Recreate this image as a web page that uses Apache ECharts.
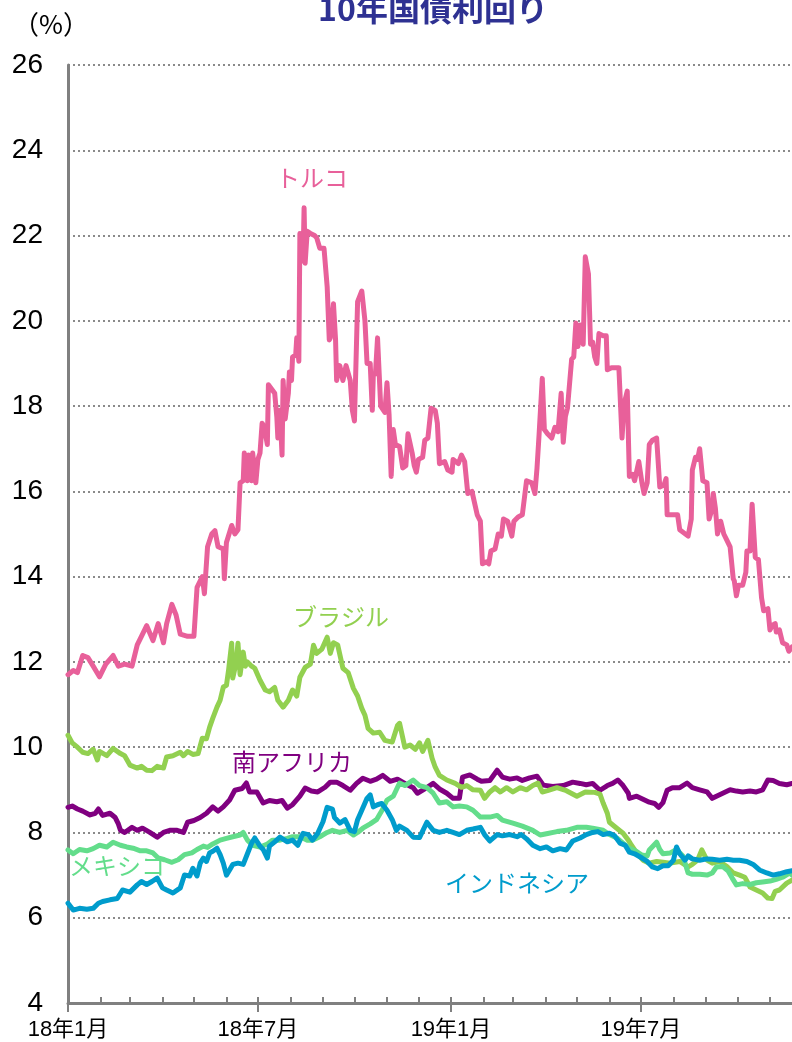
<!DOCTYPE html>
<html>
<head>
<meta charset="utf-8">
<title>10年国債利回り</title>
<script src="https://cdn.jsdelivr.net/npm/echarts@6/dist/echarts.min.js"></script>
<style>
  html, body { margin: 0; padding: 0; background: #ffffff; }
  #chart { width: 792px; height: 1042px; }
</style>
</head>
<body>
<div id="chart"></div>
<script>
// 10-year government bond yields (%), Jan 2018 - Nov 2019.
// Each series: days elapsed since 2018-01-01 and the yield on that day.

const turkeyDay = [0,5,9,14,19,24,30,36,43,48,54,61,66,70,75,81,86,91,94,99,103,107,114,120,123,128,130,133,137,140,143,148,149,151,156,159,162,164,167,168,171,172,175,176,179,181,183,185,187,190,191,194,197,199,200,202,204,205,207,210,211,213,214,217,218,220,221,222,224,225,226,228,231,235,237,240,244,247,249,250,253,255,256,259,262,265,269,271,273,276,280,283,285,288,290,291,293,295,298,302,304,306,308,310,312,316,319,322,324,328,330,332,334,338,340,343,346,350,352,354,359,362,366,367,372,375,378,381,385,390,393,395,399,401,403,407,410,413,415,419,423,425,429,433,437,442,445,447,449,452,454,457,461,464,467,470,472,474,476,480,482,484,486,488,491,493,496,498,500,502,504,506,510,513,514,518,525,528,530,533,535,538,540,544,547,549,552,554,557,561,564,568,570,571,576,581,583,591,594,595,598,600,602,605,609,611,614,615,617,619,622,625,628,631,634,635,637,639,643,646,647,650,652,653,655,658,661,663,667,669,671,674,675,678,681,685,687,690];
const turkeyYield = [11.7,11.8,11.75,12.15,12.1,11.9,11.65,11.95,12.15,11.9,11.95,11.9,12.4,12.6,12.85,12.5,12.9,12.45,12.9,13.35,13.1,12.65,12.6,12.6,13.75,14.0,13.6,14.7,15.0,15.08,14.7,14.65,13.95,14.8,15.2,15.0,15.1,16.2,16.25,16.9,16.25,16.85,16.25,16.9,16.2,16.75,16.9,17.6,17.5,17.1,18.5,18.4,18.3,17.75,17.25,17.9,16.85,18.6,17.7,18.3,18.8,18.6,19.15,19.2,19.6,19.05,22.05,22.0,21.4,22.65,21.35,22.1,22.05,22.0,21.95,21.7,21.7,20.8,19.55,19.6,20.4,19.55,18.6,18.95,18.6,18.95,18.6,17.9,17.65,20.45,20.7,20.0,19.0,19.0,17.9,18.75,18.75,19.6,18.0,17.85,18.55,17.8,16.35,17.45,17.1,17.05,16.55,16.6,17.35,16.9,16.6,16.45,16.75,16.8,17.2,17.25,17.95,17.9,17.6,16.65,16.7,16.5,16.45,16.75,16.65,16.85,16.7,15.95,16.0,15.45,15.3,14.3,14.35,14.3,14.6,14.65,15.0,14.95,15.35,15.3,14.95,15.3,15.4,15.45,16.25,16.2,15.95,16.55,17.35,18.65,17.45,17.35,17.25,17.5,17.4,18.3,17.15,17.75,17.95,19.1,19.15,19.95,19.4,19.9,19.45,21.5,21.1,19.45,19.5,19.15,19.0,19.7,19.65,19.65,18.85,18.9,18.9,17.25,18.05,18.35,16.35,16.4,16.25,16.7,16.2,15.95,16.2,17.1,17.2,17.25,16.1,16.15,16.3,15.45,15.45,15.45,15.1,14.95,15.35,16.5,16.8,16.75,17.0,16.25,16.2,15.35,15.6,15.95,15.6,15.0,15.3,15.0,14.85,14.7,13.95,13.9,13.55,13.8,13.8,14.1,14.6,14.6,15.7,15.7,14.45,14.4,13.5,13.2,13.25,12.75,12.85,12.9,12.7,12.75,12.45,12.4,12.25,12.35];

const brazilDay = [0,4,9,14,19,24,28,30,37,43,50,54,59,66,70,75,80,85,91,94,100,107,110,114,119,124,128,132,135,138,142,145,148,151,153,156,157,160,162,164,167,169,171,175,178,183,188,192,197,200,205,210,214,218,221,226,231,234,237,242,247,250,253,257,262,267,272,276,280,283,286,291,297,302,309,314,316,321,326,331,335,338,343,347,350,354,361,369,375,380,386,393,397,402,407,412,418,424,431,437,443,448,452,457,466,475,485,493,502,507,510,514,516,523,529,534,537,542,548,554,561,567,574,583,591,595,600,604,609,614,621,628,634,640,645,650,656,662,667,671,674,678,685,690];
const brazilYield = [10.28,10.1,10.0,9.88,9.85,9.95,9.7,9.9,9.8,9.97,9.85,9.8,9.58,9.51,9.55,9.46,9.45,9.55,9.51,9.77,9.8,9.88,9.8,9.9,9.83,9.85,10.21,10.2,10.47,10.68,10.94,11.1,11.41,11.45,11.8,12.44,11.62,11.95,12.44,11.7,12.23,11.9,12.0,11.9,11.85,11.57,11.34,11.3,11.4,11.1,10.94,11.1,11.34,11.2,11.64,11.87,11.95,12.39,12.2,12.3,12.58,12.2,12.45,12.4,11.85,11.75,11.38,11.2,10.91,10.75,10.44,10.33,10.35,10.16,10.12,10.51,10.56,10.0,10.05,9.95,10.1,9.9,10.16,9.74,9.53,9.34,9.23,9.15,9.06,9.1,9.0,8.99,8.8,8.95,9.05,8.95,9.05,8.95,9.05,9.0,9.1,9.16,8.95,8.98,9.05,8.98,8.85,8.95,8.94,8.9,8.69,8.45,8.24,8.1,7.98,7.82,7.7,7.52,7.35,7.28,7.32,7.3,7.28,7.32,7.19,7.25,7.35,7.59,7.35,7.28,7.32,7.2,7.05,7.0,6.95,6.72,6.65,6.58,6.46,6.45,6.62,6.65,6.81,6.88];

const safricaDay = [0,4,9,14,21,26,29,33,40,45,48,50,54,61,66,71,78,85,91,97,104,110,114,120,126,132,138,143,148,154,159,166,170,173,180,186,192,199,204,209,214,221,226,232,238,245,250,256,262,269,275,281,288,294,300,307,314,321,329,333,342,348,354,361,367,373,376,383,390,394,402,409,414,421,428,433,440,447,453,462,472,481,488,494,500,507,514,519,524,529,534,535,542,548,554,559,563,567,571,576,583,590,595,602,609,614,618,624,631,637,643,650,656,662,667,672,678,685,690];
const safricaYield = [8.59,8.62,8.55,8.5,8.41,8.45,8.55,8.4,8.45,8.35,8.2,8.05,8.0,8.12,8.05,8.1,8.0,7.89,8.0,8.05,8.05,8.0,8.24,8.28,8.35,8.45,8.6,8.5,8.6,8.76,8.99,9.03,9.16,8.95,8.95,8.69,8.75,8.72,8.75,8.57,8.65,8.85,9.04,8.97,8.95,9.06,9.18,9.18,9.1,8.99,9.15,9.27,9.2,9.25,9.34,9.2,9.25,9.15,9.05,8.92,9.05,9.15,9.02,8.92,8.8,8.8,9.3,9.35,9.25,9.2,9.22,9.46,9.3,9.25,9.28,9.22,9.28,9.32,9.11,9.08,9.1,9.18,9.15,9.12,9.15,8.99,9.1,9.15,9.23,9.1,8.92,8.8,8.85,8.78,8.71,8.68,8.59,8.7,8.99,9.05,9.05,9.16,9.05,9.0,8.95,8.8,8.85,8.92,9.0,8.97,8.95,8.97,8.95,9.0,9.23,9.22,9.15,9.12,9.15];

const mexicoDay = [0,5,11,18,24,30,37,43,50,56,62,69,75,81,86,92,99,105,111,118,123,129,133,138,145,151,157,164,167,171,176,183,190,195,202,209,214,221,228,233,240,247,252,259,266,272,276,281,288,294,300,304,310,316,321,329,335,342,348,354,361,367,373,380,386,393,402,409,414,424,433,443,450,456,466,475,485,494,500,510,516,523,529,535,542,547,552,554,561,564,567,574,580,586,591,595,602,609,614,618,624,629,633,637,643,650,656,662,669,675,681,688,690];
const mexicoYield = [7.59,7.5,7.6,7.57,7.62,7.7,7.66,7.77,7.7,7.66,7.63,7.57,7.57,7.52,7.4,7.36,7.3,7.36,7.48,7.52,7.6,7.68,7.65,7.73,7.82,7.86,7.9,7.94,8.0,7.82,7.7,7.66,7.73,7.82,7.82,7.86,7.9,7.9,7.82,7.82,7.9,8.0,8.05,8.0,8.05,7.94,8.0,8.1,8.2,8.3,8.55,8.76,8.85,9.16,9.1,9.23,9.1,9.05,8.92,8.69,8.72,8.6,8.62,8.6,8.52,8.36,8.36,8.4,8.29,8.22,8.15,8.05,7.94,7.97,8.02,8.05,8.12,8.12,8.1,8.05,7.95,7.87,7.75,7.63,7.55,7.47,7.45,7.59,7.77,7.6,7.5,7.52,7.6,7.45,7.05,7.02,7.02,7.0,7.05,7.19,7.2,7.1,6.93,6.77,6.8,6.78,6.82,6.84,6.86,6.9,6.95,7.05,7.0];

const indonesiaDay = [0,5,11,18,24,29,33,40,47,52,59,66,70,75,80,85,90,94,100,107,111,116,119,123,126,129,132,135,138,142,145,148,151,154,157,162,167,171,175,178,183,186,190,192,197,202,209,214,219,224,229,233,238,243,247,252,254,259,264,269,273,276,280,285,288,291,295,299,304,309,313,316,323,329,335,342,348,354,361,367,373,380,386,393,397,402,409,414,421,428,432,437,443,450,456,462,469,475,481,488,494,500,505,510,516,521,526,531,535,540,547,552,557,562,567,572,577,580,583,588,591,595,602,609,614,621,628,634,640,647,653,659,666,672,678,685,690];
const indonesiaYield = [6.34,6.18,6.22,6.2,6.22,6.34,6.38,6.42,6.45,6.65,6.6,6.77,6.85,6.78,6.85,6.93,6.7,6.65,6.58,6.7,7.0,6.98,7.16,6.98,7.28,7.4,7.32,7.52,7.56,7.63,7.48,7.28,7.0,7.12,7.25,7.28,7.25,7.5,7.75,7.87,7.68,7.6,7.4,7.68,7.78,7.89,7.78,7.82,7.7,7.98,7.95,7.82,7.98,8.25,8.59,8.55,8.35,8.22,8.3,8.05,8.02,8.3,8.52,8.8,8.88,8.6,8.65,8.68,8.52,8.3,8.05,8.15,8.05,7.89,7.88,8.24,8.05,8.0,8.05,8.0,7.95,8.05,8.08,8.12,7.95,7.8,7.95,7.92,7.95,7.9,7.95,7.85,7.7,7.62,7.66,7.57,7.62,7.59,7.8,7.87,7.95,8.0,8.02,7.95,7.98,7.92,7.75,7.7,7.54,7.5,7.4,7.32,7.19,7.15,7.22,7.22,7.35,7.66,7.5,7.35,7.45,7.38,7.35,7.38,7.37,7.35,7.37,7.35,7.35,7.32,7.25,7.12,7.05,7.0,7.03,7.08,7.1];

// Month starts along the date axis: every month gets a small tick, Jan/Jul get labels
const monthStarts = [];
for (let m = 0; m <= 22; m++) monthStarts.push(Date.UTC(2018, m, 1));
const halfYearStarts = monthStarts.filter((t, i) => i % 6 === 0);

const yTicks = { min: 4, max: 26, step: 2 };

const DAY_MS = 86400000;
const START = Date.UTC(2018, 0, 1);
const END = START + 690 * DAY_MS;

function pairs(days, values) {
  return days.map((d, i) => [START + d * DAY_MS, values[i]]);
}

const seriesDefs = [
  { name: 'トルコ', day: turkeyDay, val: turkeyYield, color: '#e8609a', label: [312, 178] },
  { name: '南アフリカ', day: safricaDay, val: safricaYield, color: '#800080', label: [292, 762] },
  { name: 'ブラジル', day: brazilDay, val: brazilYield, color: '#92d050', label: [341, 617] },
  { name: 'メキシコ', day: mexicoDay, val: mexicoYield, color: '#63dd8b', label: [117, 866] },
  { name: 'インドネシア', day: indonesiaDay, val: indonesiaYield, color: '#009ccc', label: [517, 883] }
];

const LATIN = "'Liberation Sans', Arial, 'Noto Sans CJK JP', sans-serif";
const CJK = "'Noto Sans CJK JP', sans-serif";
const axisGray = '#808080';

function monthLabel(v) {
  const d = new Date(v);
  return String(d.getUTCFullYear() % 100) + '年' + (d.getUTCMonth() + 1) + '月';
}

const chart = echarts.init(document.getElementById('chart'), null, { renderer: 'canvas' });

chart.setOption({
  animation: false,
  backgroundColor: '#ffffff',
  grid: { left: 68, right: 0, top: 65, bottom: 39, containLabel: false },
  xAxis: [
    {
      type: 'value', min: START, max: END,
      axisLine: { show: true, lineStyle: { color: axisGray, width: 3 } },
      axisTick: { show: true, inside: true, length: 6, customValues: monthStarts,
                  lineStyle: { color: axisGray, width: 2 } },
      axisLabel: { show: false },
      splitLine: { show: false }
    },
    {
      type: 'value', min: START, max: END, position: 'bottom', offset: 0,
      axisLine: { show: false },
      axisTick: { show: true, inside: false, length: 9, customValues: halfYearStarts,
                  lineStyle: { color: axisGray, width: 2 } },
      axisLabel: {
        show: true, customValues: halfYearStarts, margin: 16,
        color: '#000', fontSize: 22, fontFamily: LATIN,
        formatter: monthLabel
      },
      splitLine: { show: false }
    }
  ],
  yAxis: {
    type: 'value', min: yTicks.min, max: yTicks.max, interval: yTicks.step,
    axisLine: { show: true, lineStyle: { color: axisGray, width: 3 } },
    axisTick: { show: false },
    axisLabel: { color: '#000', fontSize: 28, fontFamily: LATIN, margin: 25 },
    splitLine: { show: true, lineStyle: { color: '#8a8a8a', width: 2, type: [2, 3] } }
  },
  series: seriesDefs.map(s => ({
    name: s.name, type: 'line', xAxisIndex: 0,
    data: pairs(s.day, s.val),
    showSymbol: false, symbol: 'none', smooth: false,
    lineStyle: { color: s.color, width: 5, join: 'round', cap: 'round' },
    emphasis: { disabled: true }
  })),
  graphic: [
    { type: 'text', x: 433, y: 9, style: {
        text: '10年国債利回り', fill: '#2e3192', font: "bold 32px 'Noto Sans CJK JP', sans-serif",
        textAlign: 'center', textVerticalAlign: 'middle' } },
    { type: 'text', x: 51, y: 24, style: {
        text: '（%）', fill: '#000', font: "26px 'Noto Sans CJK JP', sans-serif",
        textAlign: 'center', textVerticalAlign: 'middle' } }
  ].concat(seriesDefs.map(s => ({
    type: 'text', x: s.label[0], y: s.label[1], z: 100, style: {
      text: s.name, fill: s.color, font: "24px " + CJK,
      textAlign: 'center', textVerticalAlign: 'middle' } })))
});
</script>
</body>
</html>
